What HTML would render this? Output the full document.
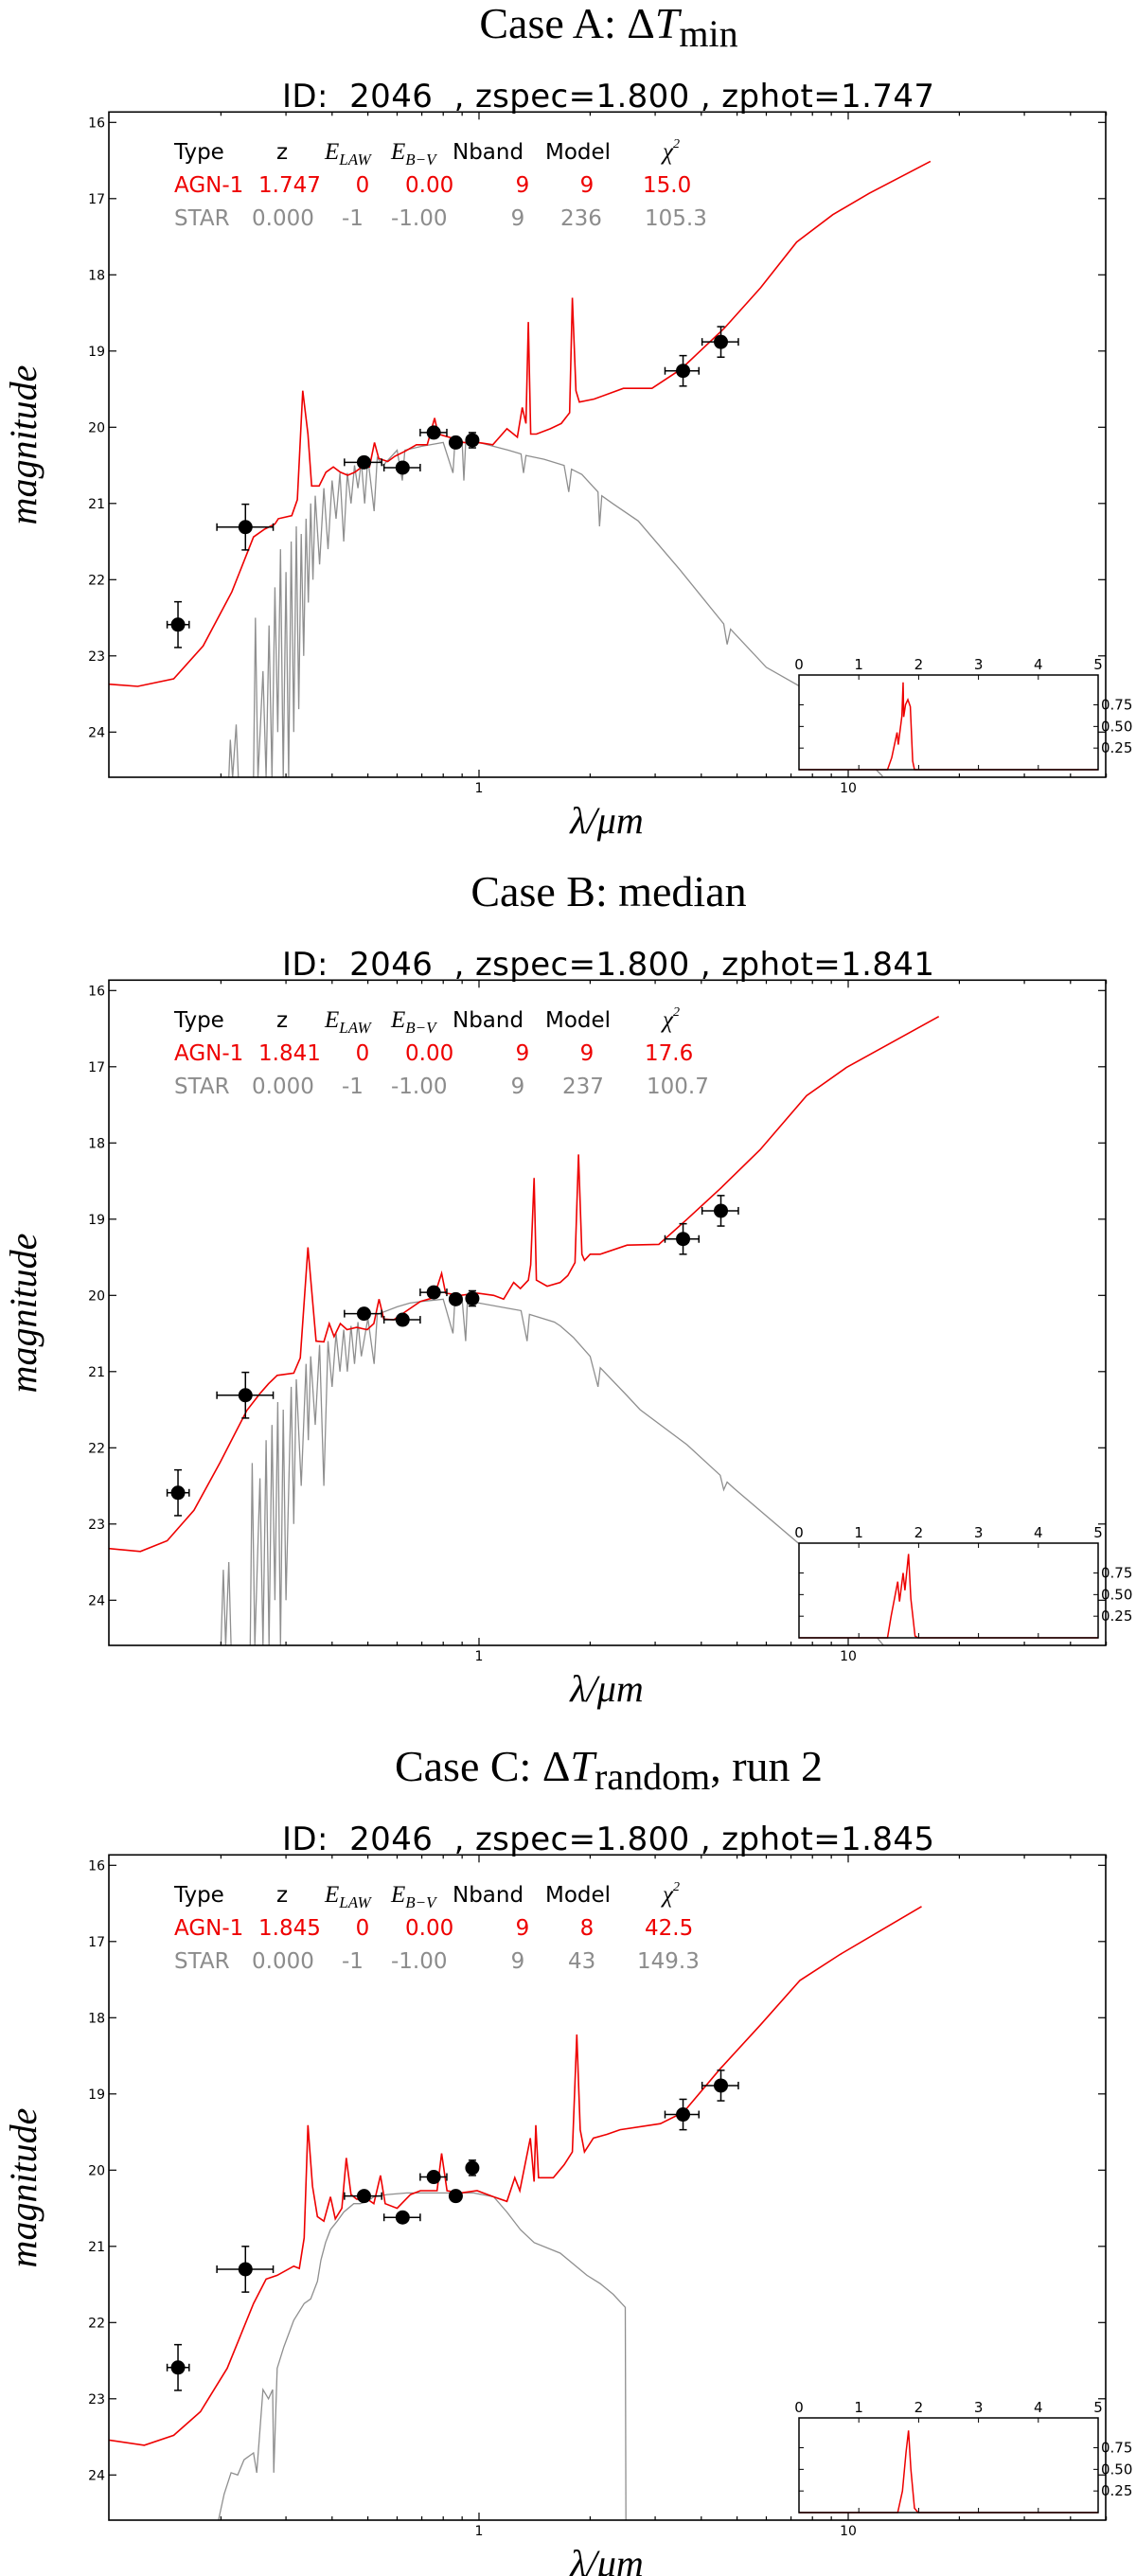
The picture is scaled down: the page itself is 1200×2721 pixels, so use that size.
<!DOCTYPE html>
<html><head><meta charset="utf-8"><title>SED fits</title>
<style>html,body{margin:0;padding:0;background:#fff}svg{display:block}.pre{white-space:pre}</style></head>
<body>
<svg id="fig" xmlns="http://www.w3.org/2000/svg" width="1200" height="2721" viewBox="0 0 1200 2721">
<rect width="1200" height="2721" fill="#fff"/>

<!-- Panel A headers -->
<g>
<text x="643" y="40" text-anchor="middle" font-family="Liberation Serif, serif" font-size="46">Case A: Δ<tspan font-style="italic">T</tspan><tspan dy="9" font-size="40">min</tspan></text>
<text class="pre" xml:space="preserve" x="298" y="113" textLength="689" font-family="DejaVu Sans, Liberation Sans, sans-serif" font-size="34">ID:  2046  , zspec=1.800 , zphot=1.747</text>
</g>
<g font-family="DejaVu Sans, Liberation Sans, sans-serif" font-size="23">
<text x="184" y="168">Type</text><text x="298" y="168" text-anchor="middle">z</text>
<text x="343" y="168" font-family="Liberation Serif, serif" font-style="italic" font-size="25">E<tspan font-size="17" dy="6">LAW</tspan></text>
<text x="413" y="168" font-family="Liberation Serif, serif" font-style="italic" font-size="25">E<tspan font-size="17" dy="6">B−V</tspan></text>
<text x="478" y="168">Nband</text><text x="576" y="168">Model</text>
<text x="700" y="168" font-family="Liberation Serif, serif" font-style="italic" font-size="25">χ<tspan font-size="14" dy="-12">2</tspan></text>
<g fill="#ee0000"><text x="184" y="203">AGN-1</text><text x="273" y="203">1.747</text><text x="383" y="203" text-anchor="middle">0</text><text x="428" y="203">0.00</text><text x="552" y="203" text-anchor="middle">9</text><text x="620" y="203" text-anchor="middle">9</text><text x="679" y="203">15.0</text></g>
<g fill="#8c8c8c"><text x="184" y="238">STAR</text><text x="266" y="238">0.000</text><text x="361" y="238">-1</text><text x="413" y="238">-1.00</text><text x="547" y="238" text-anchor="middle">9</text><text x="592" y="238">236</text><text x="681" y="238">105.3</text></g>
</g>

<!-- Panel B headers -->
<g>
<text x="643" y="957" text-anchor="middle" font-family="Liberation Serif, serif" font-size="46">Case B: median</text>
<text class="pre" xml:space="preserve" x="298" y="1030" textLength="689" font-family="DejaVu Sans, Liberation Sans, sans-serif" font-size="34">ID:  2046  , zspec=1.800 , zphot=1.841</text>
</g>
<g transform="translate(0,917)" font-family="DejaVu Sans, Liberation Sans, sans-serif" font-size="23">
<text x="184" y="168">Type</text><text x="298" y="168" text-anchor="middle">z</text>
<text x="343" y="168" font-family="Liberation Serif, serif" font-style="italic" font-size="25">E<tspan font-size="17" dy="6">LAW</tspan></text>
<text x="413" y="168" font-family="Liberation Serif, serif" font-style="italic" font-size="25">E<tspan font-size="17" dy="6">B−V</tspan></text>
<text x="478" y="168">Nband</text><text x="576" y="168">Model</text>
<text x="700" y="168" font-family="Liberation Serif, serif" font-style="italic" font-size="25">χ<tspan font-size="14" dy="-12">2</tspan></text>
<g fill="#ee0000"><text x="184" y="203">AGN-1</text><text x="273" y="203">1.841</text><text x="383" y="203" text-anchor="middle">0</text><text x="428" y="203">0.00</text><text x="552" y="203" text-anchor="middle">9</text><text x="620" y="203" text-anchor="middle">9</text><text x="681" y="203">17.6</text></g>
<g fill="#8c8c8c"><text x="184" y="238">STAR</text><text x="266" y="238">0.000</text><text x="361" y="238">-1</text><text x="413" y="238">-1.00</text><text x="547" y="238" text-anchor="middle">9</text><text x="594" y="238">237</text><text x="683" y="238">100.7</text></g>
</g>

<!-- Panel C headers -->
<g>
<text x="643" y="1881" text-anchor="middle" font-family="Liberation Serif, serif" font-size="46">Case C: Δ<tspan font-style="italic">T</tspan><tspan dy="9" font-size="40">random</tspan><tspan dy="-9">, run 2</tspan></text>
<text class="pre" xml:space="preserve" x="298" y="1954" textLength="689" font-family="DejaVu Sans, Liberation Sans, sans-serif" font-size="34">ID:  2046  , zspec=1.800 , zphot=1.845</text>
</g>
<g transform="translate(0,1841)" font-family="DejaVu Sans, Liberation Sans, sans-serif" font-size="23">
<text x="184" y="168">Type</text><text x="298" y="168" text-anchor="middle">z</text>
<text x="343" y="168" font-family="Liberation Serif, serif" font-style="italic" font-size="25">E<tspan font-size="17" dy="6">LAW</tspan></text>
<text x="413" y="168" font-family="Liberation Serif, serif" font-style="italic" font-size="25">E<tspan font-size="17" dy="6">B−V</tspan></text>
<text x="478" y="168">Nband</text><text x="576" y="168">Model</text>
<text x="700" y="168" font-family="Liberation Serif, serif" font-style="italic" font-size="25">χ<tspan font-size="14" dy="-12">2</tspan></text>
<g fill="#ee0000"><text x="184" y="203">AGN-1</text><text x="273" y="203">1.845</text><text x="383" y="203" text-anchor="middle">0</text><text x="428" y="203">0.00</text><text x="552" y="203" text-anchor="middle">9</text><text x="620" y="203" text-anchor="middle">8</text><text x="681" y="203">42.5</text></g>
<g fill="#8c8c8c"><text x="184" y="238">STAR</text><text x="266" y="238">0.000</text><text x="361" y="238">-1</text><text x="413" y="238">-1.00</text><text x="547" y="238" text-anchor="middle">9</text><text x="600" y="238">43</text><text x="673" y="238">149.3</text></g>
</g>
</svg>

<script>
// ---- shared photometry ----
const ptLam   = [0.153,0.233,0.488,0.621,0.754,0.865,0.959,3.57,4.52];
const ptLamLo = [0.143,0.195,0.432,0.553,0.693,0.865,0.950,3.19,4.02];
const ptLamHi = [0.164,0.277,0.545,0.693,0.818,0.865,0.970,3.94,5.04];
const ptMagErr= [0.30,0.30,0.06,0.06,0.06,0.06,0.10,0.20,0.20];
const aPtMag = [22.59,21.31,20.46,20.53,20.07,20.20,20.17,19.26,18.88];
const bPtMag = [22.59,21.31,20.24,20.32,19.96,20.05,20.04,19.26,18.89];
const cPtMag = [22.59,21.30,20.34,20.62,20.09,20.34,19.97,19.27,18.89];

// ---- Case A ----
const aAgnLam = [0.099,0.119,0.149,0.179,0.214,0.245,0.262,0.280,0.286,0.311,0.322,0.333,0.344,0.352,0.369,0.385,0.403,0.421,0.441,0.461,0.482,0.505,0.521,0.535,0.566,0.592,0.633,0.677,0.724,0.758,0.775,0.830,0.908,0.994,1.09,1.19,1.27,1.31,1.34,1.36,1.38,1.43,1.56,1.67,1.76,1.79,1.83,1.87,2.05,2.46,2.94,3.52,4.62,5.79,7.25,9.09,11.4,16.7];
const aAgnMag = [23.37,23.40,23.30,22.87,22.16,21.44,21.34,21.27,21.20,21.16,20.95,19.52,20.09,20.77,20.77,20.59,20.52,20.59,20.63,20.59,20.52,20.52,20.20,20.41,20.45,20.38,20.31,20.23,20.23,19.88,20.09,20.13,20.20,20.20,20.23,20.02,20.13,19.74,19.95,18.62,20.09,20.09,20.02,19.95,19.81,18.30,19.52,19.67,19.63,19.49,19.49,19.24,18.70,18.17,17.57,17.21,16.93,16.51];
const aStarLam = [0.21,0.212,0.215,0.22,0.223,0.245,0.248,0.252,0.26,0.265,0.27,0.275,0.28,0.285,0.29,0.295,0.30,0.305,0.31,0.315,0.32,0.325,0.33,0.335,0.34,0.345,0.35,0.355,0.36,0.37,0.38,0.39,0.40,0.41,0.42,0.43,0.44,0.45,0.46,0.47,0.48,0.49,0.50,0.52,0.53,0.55,0.6,0.62,0.63,0.7,0.8,0.85,0.86,0.9,0.91,0.92,1.0,1.2,1.3,1.32,1.34,1.5,1.7,1.75,1.78,1.9,2.1,2.12,2.15,2.3,2.7,3.5,4.6,4.7,4.8,6,7.4,9,12.4];
const aStarMag = [24.6,24.1,24.6,23.9,24.6,24.6,22.5,24.6,23.2,24.6,22.6,24.6,22.1,24.0,21.6,24.6,21.9,24.6,21.5,24.0,21.3,23.7,21.4,23.0,21.2,22.3,21.0,22.0,20.9,21.8,20.8,21.6,20.7,21.2,20.6,21.5,20.6,21.0,20.5,20.8,20.45,21.0,20.4,21.1,20.4,20.5,20.3,20.7,20.3,20.25,20.2,20.6,20.2,20.2,20.7,20.2,20.2,20.3,20.35,20.6,20.37,20.42,20.5,20.85,20.55,20.62,20.85,21.3,20.9,21.0,21.23,21.87,22.58,22.85,22.65,23.15,23.4,23.9,24.58];
const aPzZ = [0,1.48,1.55,1.64,1.66,1.72,1.74,1.75,1.78,1.82,1.86,1.90,1.93,5];
const aPzP = [0,0,0.14,0.43,0.29,0.62,1.01,0.61,0.75,0.81,0.73,0.10,0,0];

// ---- Case B ----
const bAgnLam = [0.099,0.121,0.143,0.169,0.199,0.235,0.256,0.269,0.284,0.315,0.328,0.344,0.362,0.380,0.393,0.405,0.421,0.439,0.466,0.498,0.519,0.536,0.552,0.587,0.638,0.694,0.754,0.792,0.812,0.890,0.988,1.096,1.166,1.241,1.294,1.36,1.38,1.41,1.43,1.53,1.66,1.74,1.82,1.86,1.90,1.93,2.0,2.13,2.52,3.07,3.66,4.5,5.77,7.71,9.89,13.25,17.6];
const bAgnMag = [23.32,23.36,23.22,22.82,22.19,21.51,21.28,21.16,21.05,21.02,20.82,19.37,20.60,20.61,20.37,20.54,20.37,20.45,20.42,20.45,20.37,20.05,20.31,20.32,20.20,20.08,20.03,19.71,19.97,20.00,19.97,20.00,20.05,19.83,19.91,19.80,19.60,18.46,19.80,19.88,19.83,19.74,19.57,18.15,19.46,19.54,19.46,19.46,19.34,19.33,19.00,18.60,18.09,17.38,17.01,16.67,16.34];
const bStarLam = [0.20,0.203,0.206,0.21,0.213,0.24,0.243,0.247,0.255,0.26,0.265,0.27,0.275,0.28,0.285,0.29,0.295,0.30,0.31,0.315,0.32,0.33,0.34,0.345,0.35,0.36,0.37,0.38,0.39,0.40,0.41,0.42,0.43,0.44,0.45,0.46,0.47,0.48,0.5,0.52,0.53,0.6,0.65,0.7,0.8,0.85,0.86,0.9,0.92,0.93,1.0,1.2,1.3,1.35,1.37,1.6,1.66,1.8,2.0,2.1,2.13,2.5,2.73,3.66,4.5,4.6,4.7,4.9,7.4,13];
const bStarMag = [24.6,23.6,24.6,23.5,24.6,24.6,22.2,24.6,22.4,24.6,21.9,24.6,21.7,24.0,21.4,24.6,21.5,24.0,21.2,23.0,21.1,22.5,20.9,21.9,20.8,21.7,20.65,22.5,20.6,21.2,20.5,21.0,20.45,21.0,20.4,20.9,20.35,20.8,20.3,20.9,20.25,20.15,20.1,20.08,20.05,20.5,20.06,20.06,20.6,20.08,20.1,20.17,20.2,20.6,20.25,20.35,20.4,20.55,20.8,21.2,20.95,21.3,21.5,21.96,22.36,22.55,22.45,22.53,23.27,24.7];
const bPzZ = [0,1.48,1.54,1.65,1.68,1.74,1.77,1.83,1.87,1.94,1.99,5];
const bPzP = [0,0,0.25,0.65,0.42,0.75,0.55,0.97,0.45,0.02,0,0];

// ---- Case C ----
const cAgnLam = [0.099,0.124,0.149,0.176,0.208,0.245,0.265,0.284,0.315,0.326,0.336,0.344,0.354,0.365,0.380,0.396,0.408,0.425,0.437,0.450,0.466,0.498,0.519,0.541,0.557,0.600,0.652,0.694,0.770,0.792,0.819,0.890,0.988,1.096,1.19,1.25,1.29,1.377,1.41,1.425,1.45,1.59,1.70,1.79,1.84,1.88,1.93,2.04,2.22,2.41,3.1,3.58,4.5,5.77,7.4,9.5,15.8];
const cAgnMag = [23.54,23.61,23.48,23.17,22.60,21.75,21.43,21.38,21.26,21.29,20.89,19.41,20.21,20.61,20.67,20.35,20.64,20.50,19.84,20.32,20.38,20.38,20.44,20.07,20.44,20.50,20.32,20.27,20.27,19.78,20.27,20.30,20.27,20.35,20.41,20.10,20.27,19.58,20.15,19.41,20.10,20.10,19.93,19.76,18.22,19.47,19.76,19.58,19.53,19.47,19.39,19.24,18.67,18.10,17.51,17.17,16.54];
const cStarLam = [0.195,0.204,0.213,0.222,0.231,0.245,0.25,0.26,0.269,0.276,0.278,0.284,0.296,0.315,0.336,0.35,0.365,0.373,0.384,0.396,0.413,0.43,0.458,0.477,0.498,0.519,0.563,0.638,0.723,0.854,0.967,1.096,1.19,1.294,1.41,1.66,1.96,2.13,2.31,2.49,2.50];
const cStarMag = [24.69,24.25,23.97,24.0,23.80,23.71,23.97,22.88,23.0,22.88,23.97,22.6,22.32,21.97,21.75,21.69,21.46,21.18,20.95,20.78,20.67,20.55,20.44,20.44,20.41,20.35,20.32,20.30,20.30,20.30,20.30,20.35,20.55,20.78,20.95,21.09,21.38,21.49,21.63,21.80,24.69];
const cPzZ = [0,1.65,1.73,1.79,1.83,1.87,1.93,1.99,5];
const cPzP = [0,0,0.25,0.70,0.95,0.50,0.05,0,0];

// ---- axis tick data ----
const yTicks = [16,17,18,19,20,21,22,23,24];
const xMajor = [1,10];
const xMinor = [0.2,0.3,0.4,0.5,0.6,0.7,0.8,0.9,2,3,4,5,6,7,8,9,20,30,40,50];
const pzXTicks = [0,1,2,3,4,5];
const pzYTicks = [0.25,0.5,0.75];

const NS = 'http://www.w3.org/2000/svg';
const svg = document.getElementById('fig');
function mk(tag, attrs, parent){
  const e = document.createElementNS(NS, tag);
  for (const k in attrs) e.setAttribute(k, attrs[k]);
  parent.appendChild(e);
  return e;
}
const X0 = 115, X1 = 1168;

function drawPanel(key, oy, agnLam, agnMag, starLam, starMag, ptMag, pzZ, pzP){
  const xS = l => 506 + 390*Math.log10(l);
  const yS = m => oy + 129.3 + (m-16)*80.5;
  const top = oy + 118.3, bot = oy + 821;
  const g = mk('g', {}, svg);
  
  
  const cp = mk('clipPath', {id:'clip-'+key}, g);
  mk('rect', {x:X0, y:top, width:X1-X0, height:bot-top}, cp);
  const plot = mk('g', {'clip-path':'url(#clip-'+key+')'}, g);

  let d = starLam.map((l,i)=>(i?'L':'M')+xS(l).toFixed(1)+','+yS(starMag[i]).toFixed(1)).join('');
  const star = mk('path', {d:d, fill:'none', stroke:'#8f8f8f', 'stroke-width':1.3}, plot);
  
  
  d = agnLam.map((l,i)=>(i?'L':'M')+xS(l).toFixed(1)+','+yS(agnMag[i]).toFixed(1)).join('');
  const agn = mk('path', {d:d, fill:'none', stroke:'#ee0000', 'stroke-width':1.6}, plot);
  
  

  ptLam.forEach((l,i)=>{
    const pg = mk('g', {stroke:'#000', 'stroke-width':1.5}, plot);
    
    
    const cx = xS(l), cy = yS(ptMag[i]);
    const xl = xS(ptLamLo[i]), xh = xS(ptLamHi[i]);
    const yl = yS(ptMag[i]-ptMagErr[i]), yh = yS(ptMag[i]+ptMagErr[i]);
    if (xh - xl > 2) {
      mk('line', {x1:xl, y1:cy, x2:xh, y2:cy}, pg);
      mk('line', {x1:xl, y1:cy-4, x2:xl, y2:cy+4}, pg);
      mk('line', {x1:xh, y1:cy-4, x2:xh, y2:cy+4}, pg);
    }
    mk('line', {x1:cx, y1:yl, x2:cx, y2:yh}, pg);
    mk('line', {x1:cx-4, y1:yl, x2:cx+4, y2:yl}, pg);
    mk('line', {x1:cx-4, y1:yh, x2:cx+4, y2:yh}, pg);
    mk('circle', {cx:cx, cy:cy, r:7.5, fill:'#000', stroke:'none'}, pg);
  });

  const ax = mk('g', {stroke:'#000', 'stroke-width':1.2}, g);
  
  
  mk('rect', {x:X0, y:top, width:X1-X0, height:bot-top, fill:'none', 'stroke-width':1.6}, ax);
  const lab = mk('g', {'font-family':'DejaVu Sans, Liberation Sans, sans-serif', 'font-size':14, fill:'#000'}, g);
  yTicks.forEach(t=>{
    const y = yS(t);
    mk('line', {x1:X0, y1:y, x2:X0+8, y2:y}, ax);
    mk('line', {x1:X1, y1:y, x2:X1-8, y2:y}, ax);
    const tx = mk('text', {x:111, y:y+5, 'text-anchor':'end'}, lab);
    tx.textContent = t;
    
    
  });
  xMajor.forEach(t=>{
    const x = xS(t);
    mk('line', {x1:x, y1:bot, x2:x, y2:bot-8}, ax);
    mk('line', {x1:x, y1:top, x2:x, y2:top+8}, ax);
    const tx = mk('text', {x:x, y:bot+16, 'text-anchor':'middle'}, lab);
    tx.textContent = t;
    
    
  });
  xMinor.forEach(t=>{
    const x = xS(t);
    mk('line', {x1:x, y1:bot, x2:x, y2:bot-4}, ax);
    mk('line', {x1:x, y1:top, x2:x, y2:top+4}, ax);
  });
  const xl = mk('text', {x:641, y:oy+880, 'text-anchor':'middle', 'font-family':'Liberation Serif, serif', 'font-style':'italic', 'font-size':40}, g);
  xl.textContent = 'λ/μm';
  
  
  const yl = mk('text', {x:0, y:0, 'text-anchor':'middle', 'font-family':'Liberation Serif, serif', 'font-style':'italic', 'font-size':40, transform:'translate(38,'+(oy+470)+') rotate(-90)'}, g);
  yl.textContent = 'magnitude';
  
  

  const ix0 = 844, ix1 = 1160, iy0 = oy+713, iy1 = oy+813;
  const zS = z => ix0 + z*(ix1-ix0)/5;
  const pS = p => iy1 - p*91.3;
  const ig = mk('g', {}, g);
  
  
  mk('rect', {x:ix0, y:iy0, width:ix1-ix0, height:iy1-iy0, fill:'#fff', stroke:'none'}, ig);
  d = pzZ.map((z,i)=>(i?'L':'M')+zS(z).toFixed(1)+','+pS(pzP[i]).toFixed(1)).join('');
  const pz = mk('path', {d:d, fill:'none', stroke:'#ee0000', 'stroke-width':1.5}, ig);
  
  
  mk('rect', {x:ix0, y:iy0, width:ix1-ix0, height:iy1-iy0, fill:'none', stroke:'#000', 'stroke-width':1.5}, ig);
  const il = mk('g', {'font-family':'DejaVu Sans, Liberation Sans, sans-serif', 'font-size':15, fill:'#000'}, ig);
  pzXTicks.forEach(t=>{
    const x = zS(t);
    mk('line', {x1:x, y1:iy1, x2:x, y2:iy1-5, stroke:'#000'}, ig);
    mk('line', {x1:x, y1:iy0, x2:x, y2:iy0+5, stroke:'#000'}, ig);
    const tx = mk('text', {x:x, y:iy0-6, 'text-anchor':'middle'}, il);
    tx.textContent = t;
    
    
  });
  pzYTicks.forEach(t=>{
    const y = pS(t);
    mk('line', {x1:ix0, y1:y, x2:ix0+5, y2:y, stroke:'#000'}, ig);
    mk('line', {x1:ix1, y1:y, x2:ix1-5, y2:y, stroke:'#000'}, ig);
    const tx = mk('text', {x:ix1+3, y:y+5}, il);
    tx.textContent = t.toFixed(2);
    
    
  });
}

drawPanel('a', 0, aAgnLam, aAgnMag, aStarLam, aStarMag, aPtMag, aPzZ, aPzP);
drawPanel('b', 917, bAgnLam, bAgnMag, bStarLam, bStarMag, bPtMag, bPzZ, bPzP);
drawPanel('c', 1841, cAgnLam, cAgnMag, cStarLam, cStarMag, cPtMag, cPzZ, cPzP);
</script>
</body></html>
